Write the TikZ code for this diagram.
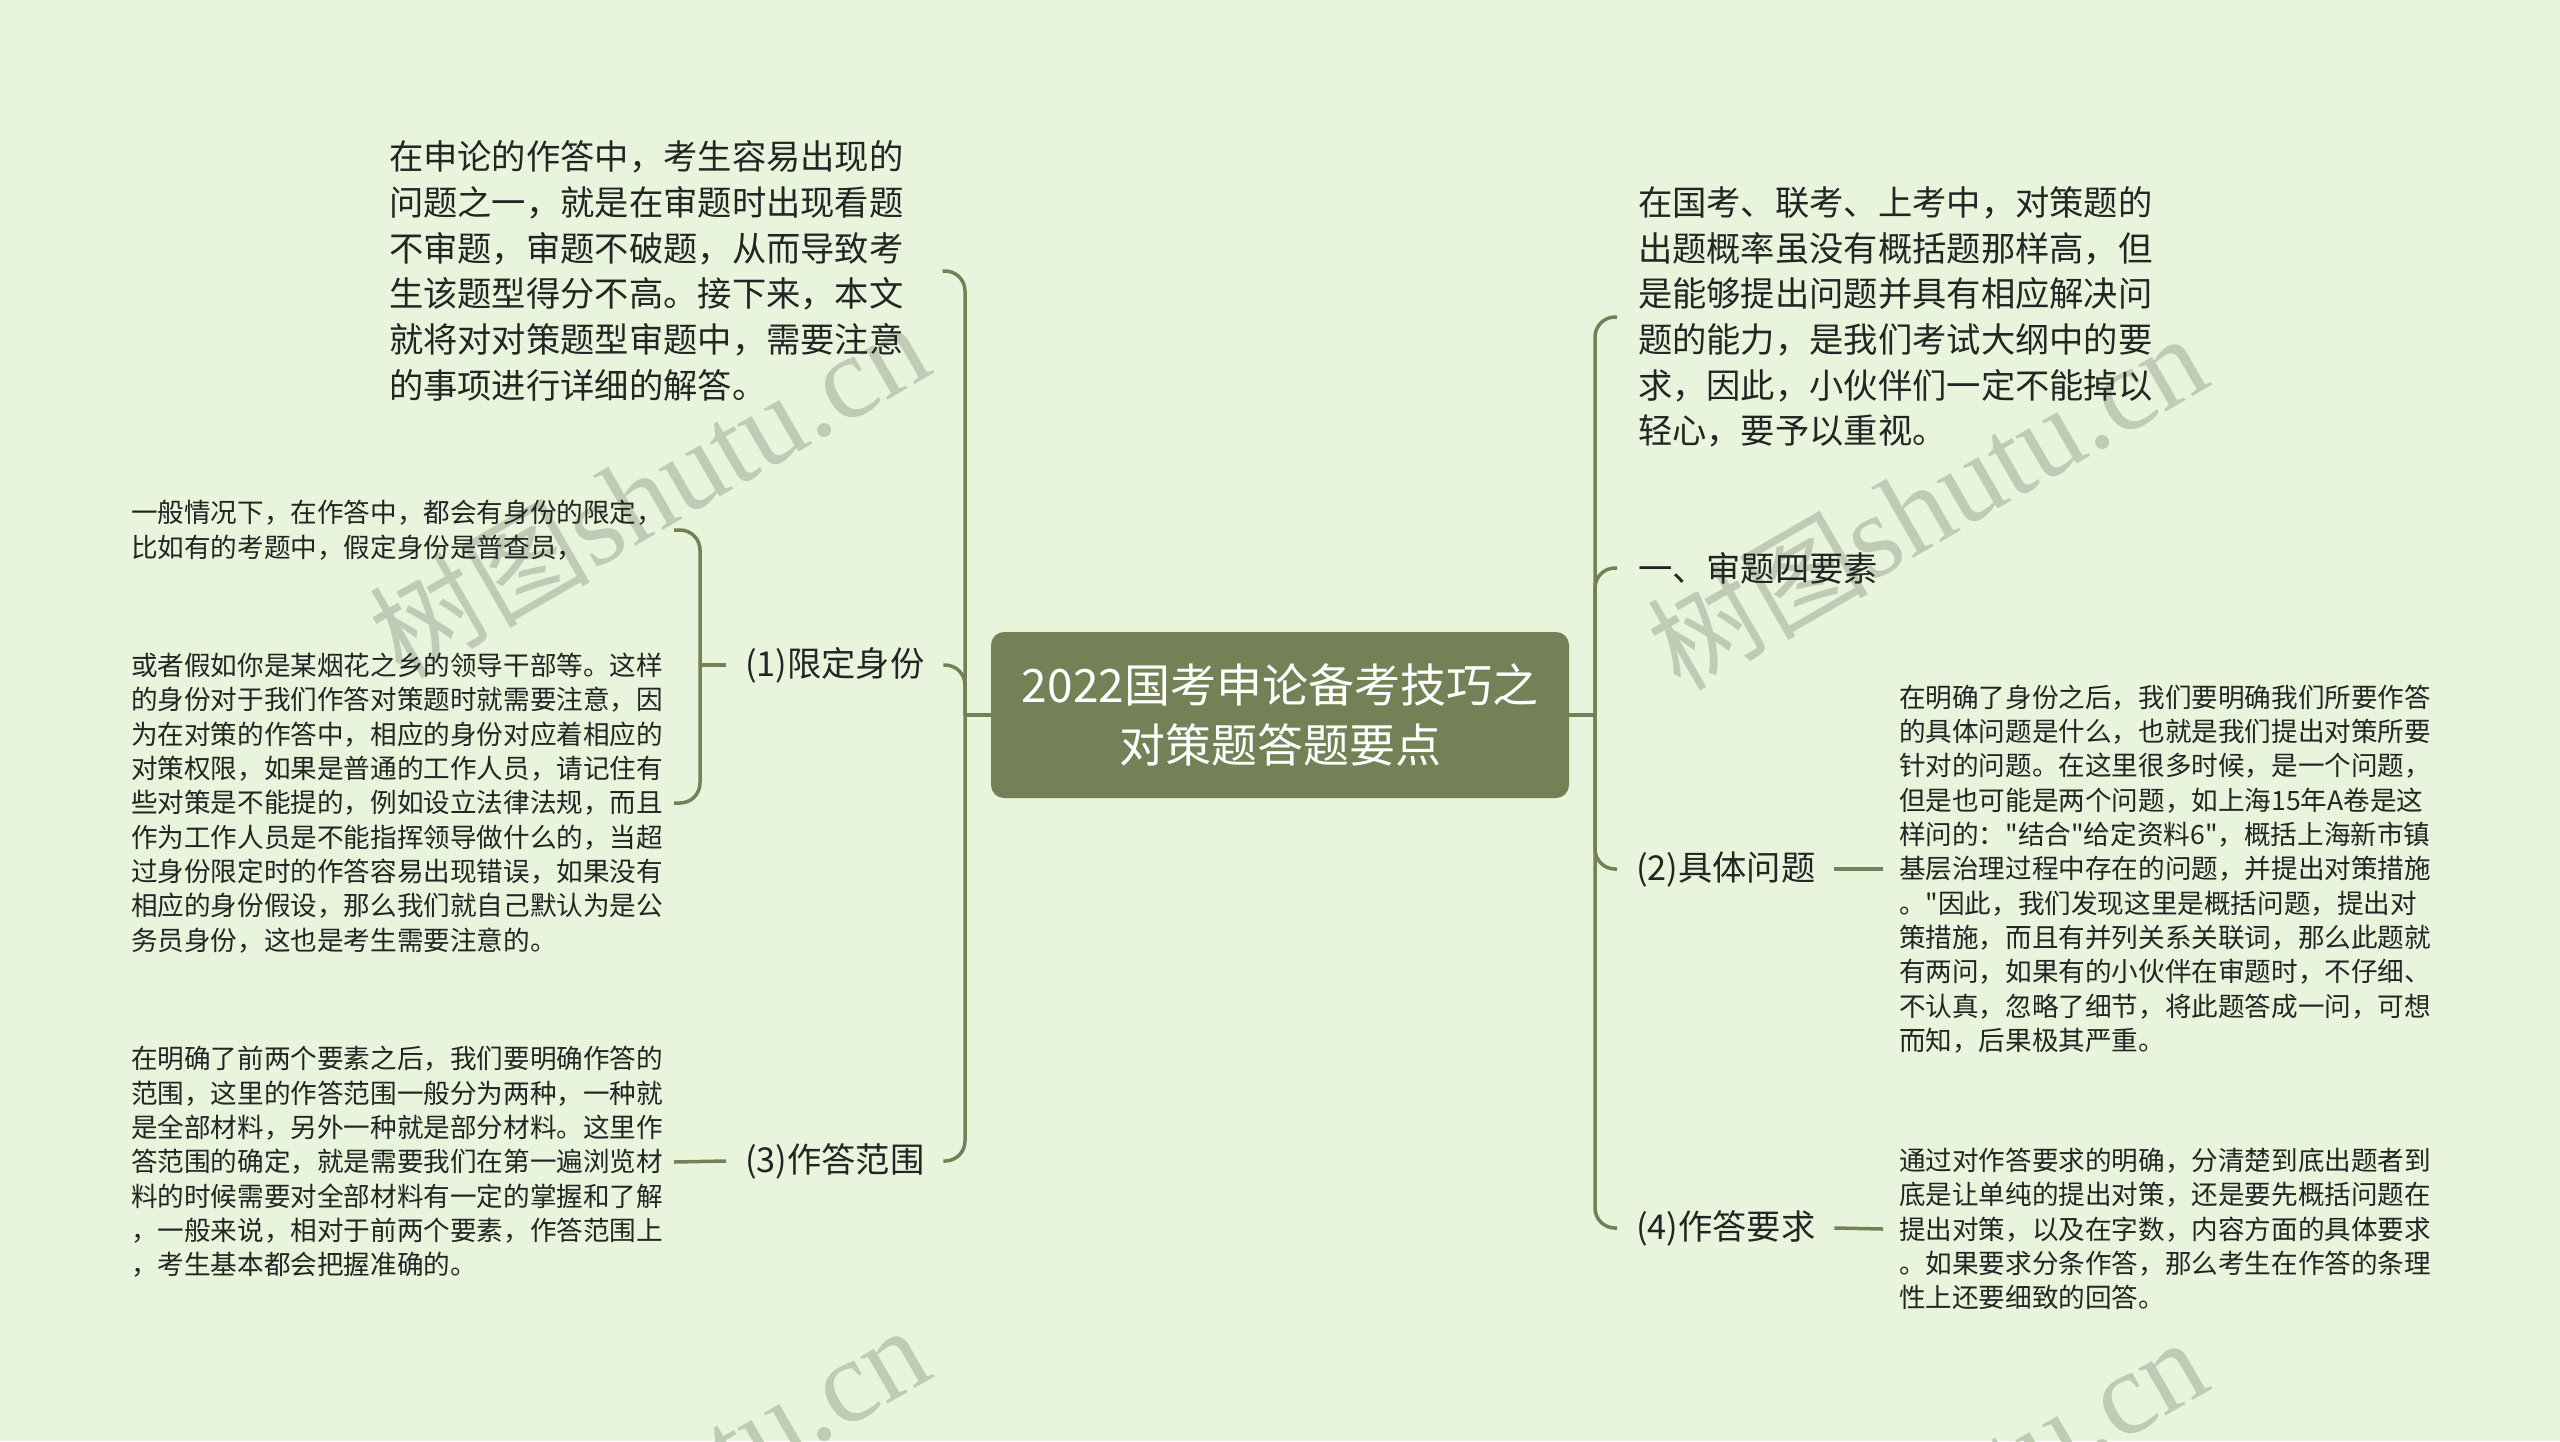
\documentclass[tikz,border=0pt]{standalone}
\usepackage{fontspec}
\newfontfamily\cjk{Noto Sans CJK SC}
\newfontfamily\wmserif{Liberation Serif}
\definecolor{bg}{RGB}{232,244,220}
\definecolor{olive}{RGB}{116,129,86}
\definecolor{ink}{RGB}{36,36,36}
\definecolor{wm}{RGB}{192,203,182}
\begin{document}
\begin{tikzpicture}[x=1pt,y=-1pt,
  conn/.style={draw=olive, line width=3.5pt, rounded corners=20pt},
  bigtxt/.style={font=\cjk\fontsize{34.3}{45.7}\selectfont, text=ink, align=left, inner xsep=0pt, inner ysep=2pt},
  smalltxt/.style={font=\cjk\fontsize{26.6}{34.3}\selectfont, text=ink, align=left, inner xsep=0pt, inner ysep=2pt},
  rootbox/.style={fill=olive, rounded corners=13pt, text=white, font=\cjk\fontsize{46}{60}\selectfont, align=center, minimum width=578pt, minimum height=166pt, inner sep=0pt},
  wmark/.style={text=wm, rotate=30, inner sep=0pt}
]
\useasboundingbox (0,0) rectangle (2560,1441);
\fill[bg] (0,0) rectangle (2560,1441);

% watermarks
\node[wmark] (wm1) at (649,490) {{\cjk\fontsize{110}{110}\selectfont 树图}{\wmserif\fontsize{118}{118}\selectfont shutu.cn}};
\node[wmark] (wm2) at (1927,502) {{\cjk\fontsize{110}{110}\selectfont 树图}{\wmserif\fontsize{118}{118}\selectfont shutu.cn}};
\node[wmark] (wm3) at (649,1494) {{\cjk\fontsize{110}{110}\selectfont 树图}{\wmserif\fontsize{118}{118}\selectfont shutu.cn}};
\node[wmark] (wm4) at (1927,1506) {{\cjk\fontsize{110}{110}\selectfont 树图}{\wmserif\fontsize{118}{118}\selectfont shutu.cn}};

% root
\node[rootbox] (root) at (1280,715) {2022国考申论备考技巧之\\对策题答题要点};
\coordinate (trunkL) at (965,715);
\coordinate (trunkR) at (1595,715);

% left side
\node[bigtxt, outer xsep=39pt, anchor=west] (LT) at (350,271) {在申论的作答中，考生容易出现的\\问题之一，就是在审题时出现看题\\不审题，审题不破题，从而导致考\\生该题型得分不高。接下来，本文\\就将对对策题型审题中，需要注意\\的事项进行详细的解答。};
\node[bigtxt, outer xsep=19pt, anchor=west] (L1) at (726,665) {(1)限定身份};
\node[bigtxt, outer xsep=19pt, anchor=west] (L3) at (726,1161) {(3)作答范围};
\coordinate (subL) at (700,665);
\node[smalltxt, outer xsep=11pt, anchor=west] (L1a) at (120,530) {一般情况下，在作答中，都会有身份的限定，\\比如有的考题中，假定身份是普查员，};
\node[smalltxt, outer xsep=11pt, anchor=west] (L1b) at (120,803) {或者假如你是某烟花之乡的领导干部等。这样\\的身份对于我们作答对策题时就需要注意，因\\为在对策的作答中，相应的身份对应着相应的\\对策权限，如果是普通的工作人员，请记住有\\些对策是不能提的，例如设立法律法规，而且\\作为工作人员是不能指挥领导做什么的，当超\\过身份限定时的作答容易出现错误，如果没有\\相应的身份假设，那么我们就自己默认为是公\\务员身份，这也是考生需要注意的。};
\node[smalltxt, outer xsep=11pt, anchor=west] (L3a) at (120,1162) {在明确了前两个要素之后，我们要明确作答的\\范围，这里的作答范围一般分为两种，一种就\\是全部材料，另外一种就是部分材料。这里作\\答范围的确定，就是需要我们在第一遍浏览材\\料的时候需要对全部材料有一定的掌握和了解\\，一般来说，相对于前两个要素，作答范围上\\，考生基本都会把握准确的。};

% right side
\node[bigtxt, outer xsep=21pt, anchor=west] (RT) at (1617,317) {在国考、联考、上考中，对策题的\\出题概率虽没有概括题那样高，但\\是能够提出问题并具有相应解决问\\题的能力，是我们考试大纲中的要\\求，因此，小伙伴们一定不能掉以\\轻心，要予以重视。};
\node[bigtxt, outer xsep=21pt, anchor=west] (R0) at (1617,568) {一、审题四要素};
\node[bigtxt, outer xsep=19pt, anchor=west] (R2) at (1617,869) {(2)具体问题};
\node[bigtxt, outer xsep=19pt, anchor=west] (R4) at (1617,1228) {(4)作答要求};
\node[smalltxt, outer xsep=16pt, anchor=west] (R2a) at (1883,869) {在明确了身份之后，我们要明确我们所要作答\\的具体问题是什么，也就是我们提出对策所要\\针对的问题。在这里很多时候，是一个问题，\\但是也可能是两个问题，如上海15年A卷是这\\样问的："结合"给定资料6"，概括上海新市镇\\基层治理过程中存在的问题，并提出对策措施\\。"因此，我们发现这里是概括问题，提出对\\策措施，而且有并列关系关联词，那么此题就\\有两问，如果有的小伙伴在审题时，不仔细、\\不认真，忽略了细节，将此题答成一问，可想\\而知，后果极其严重。};
\node[smalltxt, outer xsep=16pt, anchor=west] (R4a) at (1883,1229) {通过对作答要求的明确，分清楚到底出题者到\\底是让单纯的提出对策，还是要先概括问题在\\提出对策，以及在字数，内容方面的具体要求\\。如果要求分条作答，那么考生在作答的条理\\性上还要细致的回答。};

% connectors
\draw[conn] (root.west) -- (trunkL);
\draw[conn] (trunkL) |- (LT.east);
\draw[conn] (trunkL) |- (L1.east);
\draw[conn] (trunkL) |- (L3.east);
\draw[conn] (L1.west) -- (subL);
\draw[conn] (subL) |- (L1a.east);
\draw[conn] (subL) |- (L1b.east);
\draw[conn] (L3.west) -- (L3a.east);

\draw[conn] (root.east) -- (trunkR);
\draw[conn] (trunkR) |- (RT.west);
\draw[conn] (trunkR) |- (R0.west);
\draw[conn] (trunkR) |- (R2.west);
\draw[conn] (trunkR) |- (R4.west);
\draw[conn] (R2.east) -- (R2a.west);
\draw[conn] (R4.east) -- (R4a.west);
\end{tikzpicture}
\end{document}
